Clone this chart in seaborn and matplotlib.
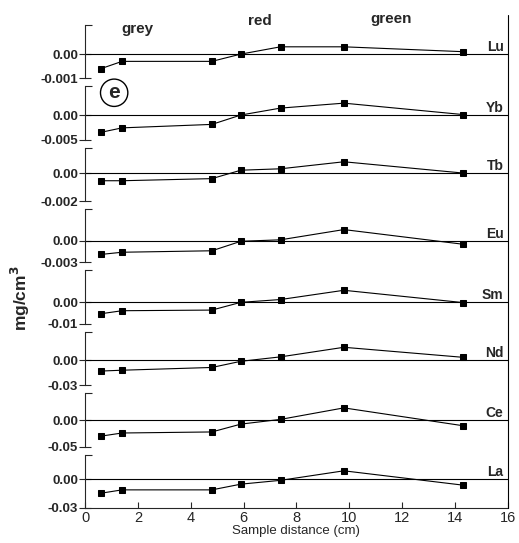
import matplotlib
matplotlib.use("Agg")
import matplotlib.pyplot as plt
from matplotlib.lines import Line2D
from matplotlib.transforms import blended_transform_factory
import numpy as np
import pandas as pd
import seaborn as sns

# sample positions (cm)
distance = [0.6, 1.4, 4.8, 5.9, 7.4, 9.8, 14.3]

elements = ["Lu", "Yb", "Tb", "Eu", "Sm", "Nd", "Ce", "La"]
lu = [-0.0006, -0.0003, -0.0003, 0.0, 0.0003, 0.0003, 0.0001]
yb = [-0.0035, -0.0026, -0.0019, 0.0, 0.0014, 0.0024, 0.0001]
tb = [-0.00055, -0.00055, -0.0004, 0.0002, 0.0003, 0.0008, 0.0]
eu = [-0.0019, -0.0016, -0.0014, -0.0001, 0.0001, 0.0015, -0.0005]
sm = [-0.0053, -0.0039, -0.0036, 0.0, 0.0013, 0.0056, -0.0001]
nd = [-0.013, -0.012, -0.0087, -0.0013, 0.004, 0.0155, 0.0035]
ce = [-0.030, -0.024, -0.022, -0.007, 0.002, 0.024, -0.010]
la = [-0.0145, -0.011, -0.011, -0.005, -0.001, 0.009, -0.006]
series = [lu, yb, tb, eu, sm, nd, ce, la]

# y range for each panel (bottom tick, top of bracket)
y_bottom = [-0.001, -0.005, -0.002, -0.003, -0.01, -0.03, -0.05, -0.03]
y_top = [0.0012, 0.0058, 0.0018, 0.0043, 0.0148, 0.034, 0.052, 0.026]
bottom_labels = ["-0.001", "-0.005", "-0.002", "-0.003", "-0.01", "-0.03", "-0.05", "-0.03"]

zones = ["grey", "red", "green"]
zone_x = [2.0, 6.6, 11.6]
zone_y = [0.92, 1.08, 1.12]

df = pd.DataFrame(
    [(el, d, v) for el, vals in zip(elements, series) for d, v in zip(distance, vals)],
    columns=["element", "distance", "value"],
)

sns.set_theme(style="ticks")
plt.rcParams["font.family"] = ["Liberation Sans", "DejaVu Sans"]

fig, axes = plt.subplots(len(elements), 1, figsize=(5.19, 5.43), dpi=100, sharex=True)
fig.subplots_adjust(left=0.164, right=0.978, top=0.954, bottom=0.0645, hspace=0.15)

for i, (ax, el) in enumerate(zip(axes, elements)):
    sub = df[df["element"] == el]
    ax.axhline(0, color="black", lw=0.8, zorder=1)
    sns.lineplot(
        data=sub, x="distance", y="value", ax=ax, color="black",
        marker="s", markersize=5, markeredgecolor="black", lw=0.8, zorder=3,
    )
    ax.set_ylim(y_bottom[i], y_top[i])
    ax.set_xlim(0, 16)
    ax.set_yticks([y_bottom[i], 0.0])
    ax.set_yticklabels([bottom_labels[i], "0.00"], fontweight="bold", fontsize=9.5)
    ax.set_yticks([y_top[i]], minor=True)
    ax.tick_params(axis="y", which="major", direction="inout", length=8, width=0.8, pad=1)
    ax.tick_params(axis="y", which="minor", direction="in", length=5, width=0.8)
    ax.set_ylabel("")
    ax.set_xlabel("")
    for s in ("top", "right"):
        ax.spines[s].set_visible(False)
    ax.spines["left"].set_linewidth(0.8)
    if i < len(elements) - 1:
        ax.spines["bottom"].set_visible(False)
        ax.tick_params(axis="x", which="both", bottom=False, labelbottom=False)
    ax.text(15.85, 0, el, ha="right", va="bottom", fontsize=10, fontweight="bold")
    ax.set_facecolor("white")

bottom_ax = axes[-1]
bottom_ax.set_xticks(np.arange(0, 17, 2))
bottom_ax.tick_params(axis="x", direction="in", length=4, width=0.8, labelsize=10.5, pad=2)
bottom_ax.spines["bottom"].set_linewidth(0.8)
bottom_ax.set_xlabel("Sample distance (cm)", fontsize=9.5, labelpad=0)

top_ax = axes[0]
tr = blended_transform_factory(top_ax.transData, top_ax.transAxes)
for name, zx, zy in zip(zones, zone_x, zone_y):
    top_ax.text(zx, zy, name, transform=tr, ha="center", va="center",
                fontsize=11, fontweight="bold", clip_on=False)

axes[1].text(1.1, 0.88, "e", transform=blended_transform_factory(axes[1].transData, axes[1].transAxes),
             ha="center", va="center", fontsize=15, fontweight="bold",
             bbox=dict(boxstyle="circle,pad=0.2", fc="white", ec="black", lw=1.0))

fig.text(0.04, 0.45, r"mg/cm$^\mathbf{3}$", rotation=90, ha="center", va="center",
         fontsize=12.5, fontweight="bold")

# right-hand frame line spanning all panels
x_right = bottom_ax.get_position().x1
y_low = bottom_ax.get_position().y0
fig.add_artist(Line2D([x_right, x_right], [y_low, 1 - 15 / 543], color="black", lw=0.8))

fig.savefig("out.png", dpi=100, facecolor="white")
plt.close(fig)
